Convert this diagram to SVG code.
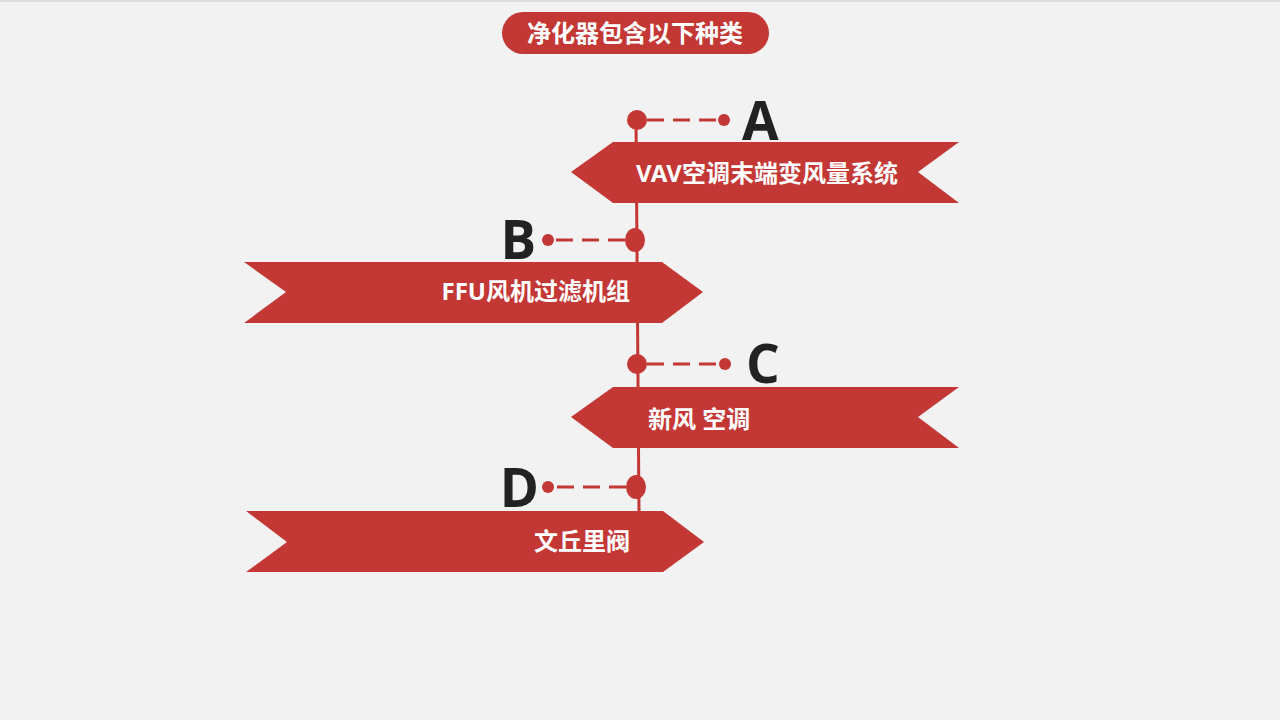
<svg xmlns="http://www.w3.org/2000/svg" width="1280" height="720" viewBox="0 0 1280 720">
<style>
.bg{fill:#f2f2f2}
.red{fill:#c33735}
.ln{stroke:#c33735;stroke-width:3;fill:none}
.dash{stroke:#c33735;stroke-width:3;fill:none;stroke-dasharray:17 9}
.t{font-family:"Noto Sans","Noto Sans CJK SC",sans-serif;font-weight:bold;font-size:24px;fill:#fff}
.big{font-family:"Open Sans","Liberation Sans",sans-serif;font-weight:bold;font-size:53px;fill:#222}
</style>
<rect class="bg" x="0" y="0" width="1280" height="720"/>
<rect x="0" y="0" width="1280" height="2" fill="#dcdcdc"/>
<g id="title">
<rect class="red" x="502" y="12" width="267" height="42" rx="21"/>
<text class="t" x="635" y="42" text-anchor="middle">净化器包含以下种类</text>
</g>
<g id="connectors">
<line class="ln" x1="636" y1="120" x2="639" y2="511"/>
<line class="dash" x1="647" y1="120" x2="720" y2="120"/>
<line class="dash" x1="625" y1="240" x2="552" y2="240"/>
<line class="dash" x1="647" y1="364" x2="721" y2="364"/>
<line class="dash" x1="626" y1="487" x2="552" y2="487"/>
</g>
<g id="nodeA">
<circle class="red" cx="637" cy="120" r="10"/>
<circle class="red" cx="724" cy="120" r="6"/>
<text class="big" x="742" y="140">A</text>
<polygon class="red" points="571,172 613,142 959,142 918,172 959,203 613,203"/>
<text class="t" x="767" y="182" text-anchor="middle">VAV空调末端变风量系统</text>
</g>
<g id="nodeB">
<ellipse class="red" cx="635" cy="240" rx="10" ry="12"/>
<circle class="red" cx="548" cy="240" r="6"/>
<text class="big" x="536" y="259" text-anchor="end">B</text>
<polygon class="red" points="244,262 662,262 703,292 662,323 244,323 286,292"/>
<text class="t" x="630" y="300" text-anchor="end">FFU风机过滤机组</text>
</g>
<g id="nodeC">
<circle class="red" cx="637" cy="364" r="10"/>
<circle class="red" cx="725" cy="364" r="6"/>
<text class="big" x="746" y="383">C</text>
<polygon class="red" points="571,417 613,387 959,387 918,417 959,448 613,448"/>
<text class="t" x="648" y="428">新风 空调</text>
</g>
<g id="nodeD">
<ellipse class="red" cx="636" cy="487" rx="10" ry="12"/>
<circle class="red" cx="548" cy="487" r="6"/>
<text class="big" x="539" y="507" text-anchor="end">D</text>
<polygon class="red" points="246,511 663,511 704,542 663,572 246,572 287,542"/>
<text class="t" x="630" y="550" text-anchor="end">文丘里阀</text>
</g>
</svg>
